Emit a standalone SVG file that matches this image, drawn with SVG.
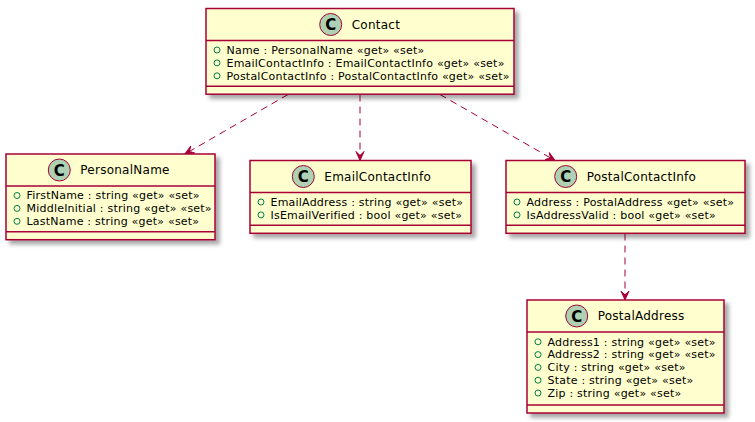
<svg xmlns="http://www.w3.org/2000/svg" width="755" height="422" viewBox="0 0 755 422">
<style>
.box{fill:#FEFECE;stroke:#A80036;stroke-width:1.5;}
.sep{stroke:#A80036;stroke-width:1.5;}
.ci{fill:#ADD1B2;stroke:#A80036;stroke-width:1;}
.cg{font-family:"DejaVu Sans",sans-serif;font-weight:bold;font-size:15px;fill:#000;text-anchor:middle;}
.nm{font-family:"DejaVu Sans",sans-serif;font-size:12px;fill:#000;letter-spacing:0.25px;}
.at{font-family:"DejaVu Sans",sans-serif;font-size:11px;fill:#000;letter-spacing:0.22px;}
.vis{fill:none;stroke:#038048;stroke-width:1;}
.edge{fill:none;stroke:#A80036;stroke-width:1;stroke-dasharray:7,5;}
</style>
<defs>
<filter id="sh" x="-10%" y="-10%" width="130%" height="150%">
<feDropShadow dx="4" dy="4" stdDeviation="2" flood-color="#000" flood-opacity="0.35"/>
</filter>
<marker id="ah" viewBox="-10 -5 11 10" refX="0" refY="0" markerWidth="11" markerHeight="10" markerUnits="userSpaceOnUse" orient="auto">
<path d="M0,0 L-9,-4 L-5,0 L-9,4 Z" fill="#A80036" stroke="#A80036" stroke-width="1"/>
</marker>
</defs>

<g id="connectors">
<path class="edge" d="M288,94.5 L185,154" marker-end="url(#ah)"/>
<path class="edge" d="M360,94.5 L360,160.5" marker-end="url(#ah)"/>
<path class="edge" d="M440,94.5 L555,160.5" marker-end="url(#ah)"/>
<path class="edge" d="M625,233.5 L625,300" marker-end="url(#ah)"/>
</g>

<g id="Contact">
<rect class="box" x="206" y="8.5" width="308" height="85.7" filter="url(#sh)"/>
<circle class="ci" cx="330.7" cy="24.5" r="11"/>
<text class="cg" x="330.7" y="30">C</text>
<text class="nm" x="351.7" y="28.7">Contact</text>
<line class="sep" x1="206" y1="40.5" x2="514" y2="40.5"/>
<circle class="vis" cx="217" cy="50" r="3"/>
<text class="at" x="226.5" y="53.7">Name : PersonalName «get» «set»</text>
<circle class="vis" cx="217" cy="62.9" r="3"/>
<text class="at" x="226.5" y="66.6">EmailContactInfo : EmailContactInfo «get» «set»</text>
<circle class="vis" cx="217" cy="75.8" r="3"/>
<text class="at" x="226.5" y="79.5">PostalContactInfo : PostalContactInfo «get» «set»</text>
<line class="sep" x1="206" y1="86.2" x2="514" y2="86.2"/>
</g>

<g id="PersonalName">
<rect class="box" x="6" y="154" width="209" height="85.7" filter="url(#sh)"/>
<circle class="ci" cx="59.3" cy="170" r="11"/>
<text class="cg" x="59.3" y="175.5">C</text>
<text class="nm" x="80.3" y="174.2">PersonalName</text>
<line class="sep" x1="6" y1="186" x2="215" y2="186"/>
<circle class="vis" cx="17" cy="195.5" r="3"/>
<text class="at" x="26.5" y="199.2">FirstName : string «get» «set»</text>
<circle class="vis" cx="17" cy="208.4" r="3"/>
<text class="at" x="26.5" y="212.1">MiddleInitial : string «get» «set»</text>
<circle class="vis" cx="17" cy="221.3" r="3"/>
<text class="at" x="26.5" y="225">LastName : string «get» «set»</text>
<line class="sep" x1="6" y1="231.7" x2="215" y2="231.7"/>
</g>

<g id="EmailContactInfo">
<rect class="box" x="250" y="160.5" width="221" height="72.8" filter="url(#sh)"/>
<circle class="ci" cx="303.3" cy="176.5" r="11"/>
<text class="cg" x="303.3" y="182">C</text>
<text class="nm" x="324.3" y="180.7">EmailContactInfo</text>
<line class="sep" x1="250" y1="192.5" x2="471" y2="192.5"/>
<circle class="vis" cx="261" cy="202" r="3"/>
<text class="at" x="270.5" y="205.7">EmailAddress : string «get» «set»</text>
<circle class="vis" cx="261" cy="214.9" r="3"/>
<text class="at" x="270.5" y="218.6">IsEmailVerified : bool «get» «set»</text>
<line class="sep" x1="250" y1="225.3" x2="471" y2="225.3"/>
</g>

<g id="PostalContactInfo">
<rect class="box" x="506" y="160.5" width="239" height="72.8" filter="url(#sh)"/>
<circle class="ci" cx="565.7" cy="176.5" r="11"/>
<text class="cg" x="565.7" y="182">C</text>
<text class="nm" x="586.7" y="180.7">PostalContactInfo</text>
<line class="sep" x1="506" y1="192.5" x2="745" y2="192.5"/>
<circle class="vis" cx="517" cy="202" r="3"/>
<text class="at" x="526.5" y="205.7">Address : PostalAddress «get» «set»</text>
<circle class="vis" cx="517" cy="214.9" r="3"/>
<text class="at" x="526.5" y="218.6">IsAddressValid : bool «get» «set»</text>
<line class="sep" x1="506" y1="225.3" x2="745" y2="225.3"/>
</g>

<g id="PostalAddress">
<rect class="box" x="527" y="300" width="197" height="113" filter="url(#sh)"/>
<circle class="ci" cx="576.7" cy="316" r="11"/>
<text class="cg" x="576.7" y="321.5">C</text>
<text class="nm" x="597.7" y="320.2">PostalAddress</text>
<line class="sep" x1="527" y1="332" x2="724" y2="332"/>
<circle class="vis" cx="538" cy="341.8" r="3"/>
<text class="at" x="547.5" y="345.5">Address1 : string «get» «set»</text>
<circle class="vis" cx="538" cy="354.6" r="3"/>
<text class="at" x="547.5" y="358.3">Address2 : string «get» «set»</text>
<circle class="vis" cx="538" cy="367.4" r="3"/>
<text class="at" x="547.5" y="371.1">City : string «get» «set»</text>
<circle class="vis" cx="538" cy="380.2" r="3"/>
<text class="at" x="547.5" y="383.9">State : string «get» «set»</text>
<circle class="vis" cx="538" cy="393" r="3"/>
<text class="at" x="547.5" y="396.7">Zip : string «get» «set»</text>
<line class="sep" x1="527" y1="405" x2="724" y2="405"/>
</g>
</svg>
